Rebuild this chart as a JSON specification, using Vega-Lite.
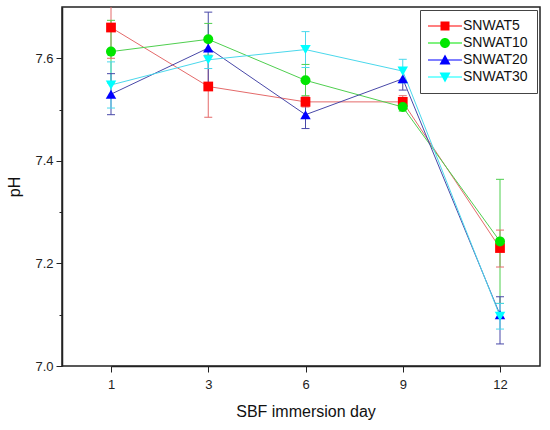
{
  "$schema": "https://vega.github.io/schema/vega-lite/v6.json",
  "width": 478,
  "height": 359,
  "autosize": "none",
  "padding": {"left": 62, "top": 7, "right": 10, "bottom": 64},
  "background": "white",
  "data": {
    "values": [
      {"series": "SNWAT5", "day": 1, "ph": 7.66, "lo": 7.6, "hi": 7.72},
      {"series": "SNWAT5", "day": 3, "ph": 7.545, "lo": 7.485, "hi": 7.605},
      {"series": "SNWAT5", "day": 6, "ph": 7.515, "lo": 7.505, "hi": 7.525},
      {"series": "SNWAT5", "day": 9, "ph": 7.515, "lo": 7.503, "hi": 7.527},
      {"series": "SNWAT5", "day": 12, "ph": 7.23, "lo": 7.193, "hi": 7.265},
      {"series": "SNWAT10", "day": 1, "ph": 7.613, "lo": 7.552, "hi": 7.674},
      {"series": "SNWAT10", "day": 3, "ph": 7.637, "lo": 7.606, "hi": 7.668},
      {"series": "SNWAT10", "day": 6, "ph": 7.557, "lo": 7.527, "hi": 7.588},
      {"series": "SNWAT10", "day": 9, "ph": 7.505, "lo": 7.497, "hi": 7.513},
      {"series": "SNWAT10", "day": 12, "ph": 7.243, "lo": 7.122, "hi": 7.364},
      {"series": "SNWAT20", "day": 1, "ph": 7.53, "lo": 7.49, "hi": 7.57},
      {"series": "SNWAT20", "day": 3, "ph": 7.62, "lo": 7.55, "hi": 7.69},
      {"series": "SNWAT20", "day": 6, "ph": 7.49, "lo": 7.463, "hi": 7.517},
      {"series": "SNWAT20", "day": 9, "ph": 7.56, "lo": 7.538, "hi": 7.582},
      {"series": "SNWAT20", "day": 12, "ph": 7.1, "lo": 7.043, "hi": 7.135},
      {"series": "SNWAT30", "day": 1, "ph": 7.548, "lo": 7.503, "hi": 7.593},
      {"series": "SNWAT30", "day": 3, "ph": 7.597, "lo": 7.58, "hi": 7.614},
      {"series": "SNWAT30", "day": 6, "ph": 7.617, "lo": 7.582, "hi": 7.652},
      {"series": "SNWAT30", "day": 9, "ph": 7.575, "lo": 7.552, "hi": 7.598},
      {"series": "SNWAT30", "day": 12, "ph": 7.097, "lo": 7.072, "hi": 7.122}
    ]
  },
  "encoding": {
    "x": {
      "field": "day",
      "type": "ordinal",
      "title": "SBF immersion day",
      "scale": {"type": "point", "range": [49, 438], "padding": 0},
      "axis": {
        "labelAngle": 0,
        "labelFontSize": 13,
        "titleFontSize": 16,
        "tickSize": 6,
        "labelPadding": 6,
        "titlePadding": 12,
        "domainColor": "#222",
        "domainWidth": 1.5,
        "tickColor": "#222",
        "labelColor": "#222",
        "titleColor": "#111",
        "titleFontWeight": "normal"
      }
    }
  },
  "layer": [
    {
      "mark": {"type": "line", "strokeWidth": 1},
      "encoding": {
        "y": {
          "field": "ph",
          "type": "quantitative",
          "title": "pH",
          "scale": {"domain": [7.0, 7.7], "nice": false},
          "axis": {
            "values": [7.0, 7.1, 7.2, 7.3, 7.4, 7.5, 7.6],
            "labelExpr": "round(datum.value * 10) % 2 === 0 ? format(datum.value, '.1f') : ''",
            "tickSize": {"condition": {"test": "round(datum.value * 10) % 2 === 0", "value": 6}, "value": 3},
            "grid": false,
            "labelFontSize": 13,
            "titleFontSize": 16,
            "labelPadding": 3,
            "titlePadding": 12,
            "domainColor": "#222",
            "domainWidth": 1.5,
            "tickColor": "#222",
            "labelColor": "#222",
            "titleColor": "#111",
            "titleFontWeight": "normal"
          }
        },
        "stroke": {
          "field": "series",
          "type": "nominal",
          "scale": {"range": ["#4fcf4f", "#4848a8", "#4ad8ec", "#e46a6a"]},
          "legend": null
        }
      }
    },
    {
      "mark": {"type": "rule", "strokeWidth": 1, "clip": true},
      "encoding": {
        "y": {"field": "lo", "type": "quantitative", "title": "pH"},
        "y2": {"field": "hi"},
        "stroke": {"field": "series", "type": "nominal", "legend": null}
      }
    },
    {
      "mark": {"type": "rule", "strokeWidth": 1, "xOffset": -4, "x2Offset": 4, "clip": true},
      "encoding": {
        "x2": {"field": "day"},
        "y": {"field": "lo", "type": "quantitative", "title": "pH"},
        "stroke": {"field": "series", "type": "nominal", "legend": null}
      }
    },
    {
      "mark": {"type": "rule", "strokeWidth": 1, "xOffset": -4, "x2Offset": 4, "clip": true},
      "encoding": {
        "x2": {"field": "day"},
        "y": {"field": "hi", "type": "quantitative", "title": "pH"},
        "stroke": {"field": "series", "type": "nominal", "legend": null}
      }
    },
    {
      "transform": [{"filter": "datum.series === 'SNWAT5'"}],
      "mark": {"type": "point", "shape": "square", "filled": true, "size": 95, "opacity": 1},
      "encoding": {
        "y": {"field": "ph", "type": "quantitative", "title": "pH"},
        "color": {"field": "series", "type": "nominal"}
      }
    },
    {
      "transform": [{"filter": "datum.series === 'SNWAT10'"}],
      "mark": {"type": "point", "shape": "circle", "filled": true, "size": 100, "opacity": 1},
      "encoding": {
        "y": {"field": "ph", "type": "quantitative", "title": "pH"},
        "color": {"field": "series", "type": "nominal"}
      }
    },
    {
      "transform": [{"filter": "datum.series === 'SNWAT20'"}],
      "mark": {"type": "point", "shape": "triangle-up", "filled": true, "size": 110, "opacity": 1},
      "encoding": {
        "y": {"field": "ph", "type": "quantitative", "title": "pH"},
        "color": {"field": "series", "type": "nominal"}
      }
    },
    {
      "transform": [{"filter": "datum.series === 'SNWAT30'"}],
      "mark": {"type": "point", "shape": "triangle-down", "filled": true, "size": 110, "opacity": 1},
      "encoding": {
        "y": {"field": "ph", "type": "quantitative", "title": "pH"},
        "color": {"field": "series", "type": "nominal"}
      }
    },
    {
      "transform": [{"filter": "datum.day > 100"}],
      "mark": {"type": "point", "filled": true, "size": 100, "opacity": 1},
      "encoding": {
        "y": {"field": "ph", "type": "quantitative", "title": "pH"},
        "color": {
          "field": "series",
          "type": "nominal",
          "scale": {
            "domain": ["SNWAT5", "SNWAT10", "SNWAT20", "SNWAT30"],
            "range": ["#ff0000", "#00e600", "#0000ff", "#00ffff"]
          },
          "legend": {
            "title": null,
            "orient": "top-right",
            "offset": 3,
            "fillColor": "white",
            "strokeColor": "#444",
            "padding": 9,
            "labelFontSize": 14,
            "labelColor": "#111",
            "rowPadding": 3,
            "symbolSize": 100,
            "symbolOpacity": 1,
            "symbolOffset": 9,
            "labelOffset": 11
          }
        },
        "shape": {
          "field": "series",
          "type": "nominal",
          "scale": {
            "domain": ["SNWAT5", "SNWAT10", "SNWAT20", "SNWAT30"],
            "range": [
              "M-3.4,-0.1H3.4V0.1H-3.4ZM-0.9,-0.9H0.9V0.9H-0.9Z",
              "M-3.4,-0.1H3.4V0.1H-3.4ZM1,0A1,1,0,1,1,-1,0A1,1,0,1,1,1,0Z",
              "M-3.4,-0.1H3.4V0.1H-3.4ZM0,-1.1L1.1,0.9L-1.1,0.9Z",
              "M-3.4,-0.1H3.4V0.1H-3.4ZM0,1.1L-1.1,-0.9L1.1,-0.9Z"
            ]
          }
        }
      }
    }
  ],
  "config": {
    "font": "Liberation Sans",
    "view": {"stroke": "#222", "strokeWidth": 1.5}
  }
}
